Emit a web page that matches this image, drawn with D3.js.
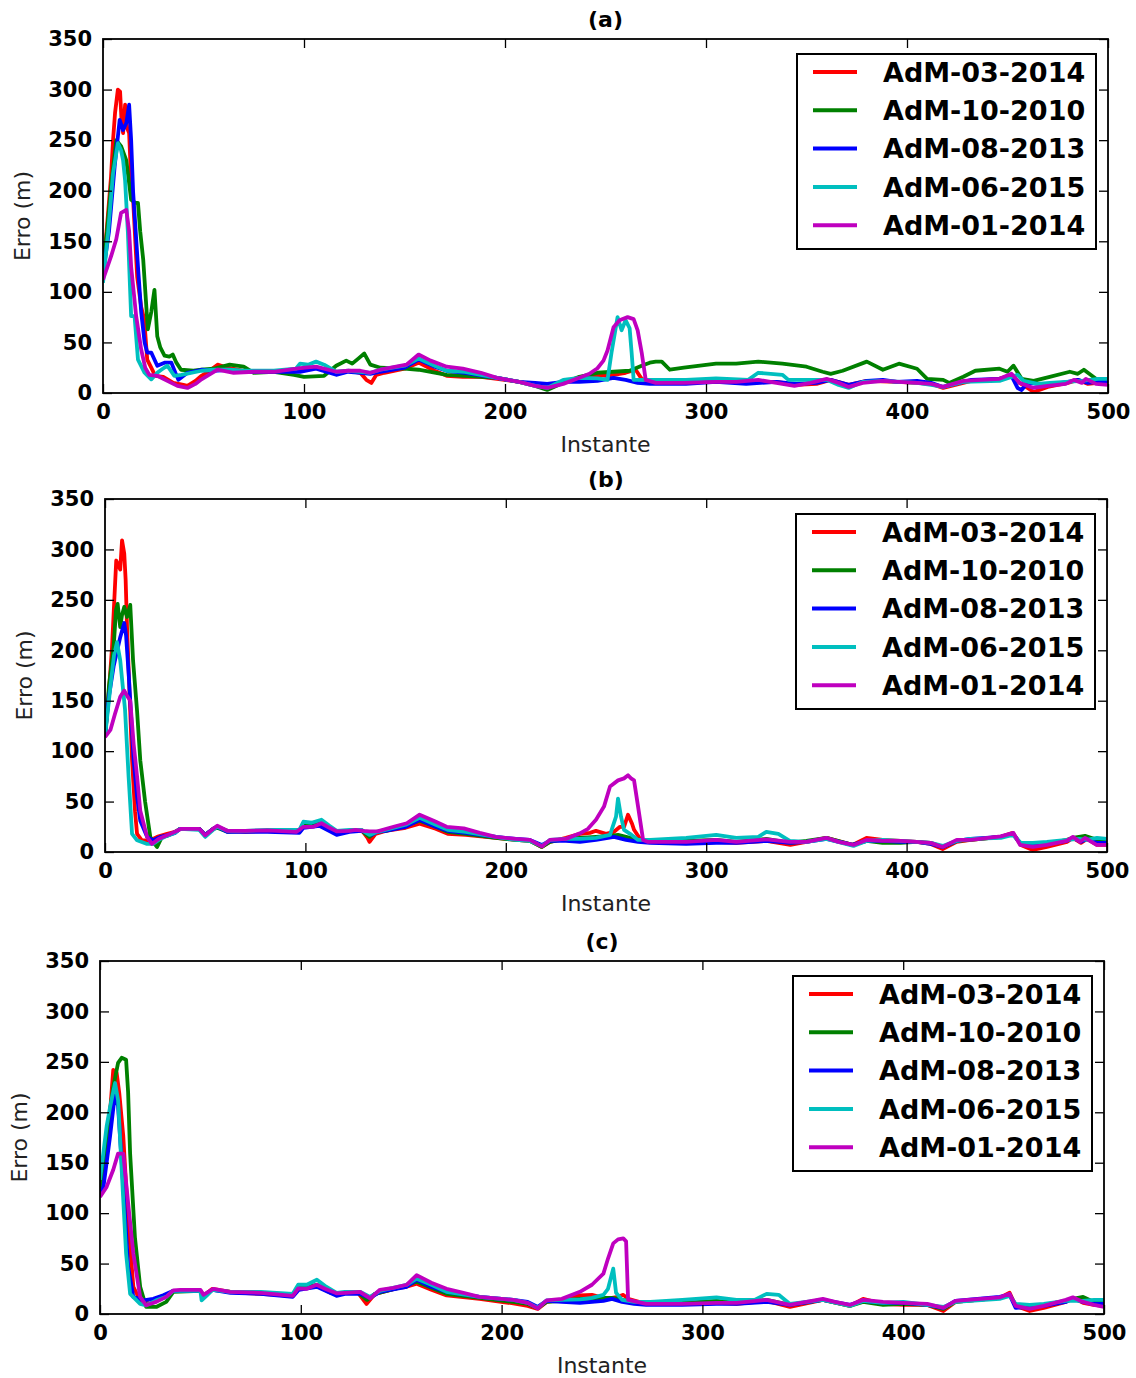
<!DOCTYPE html>
<html>
<head>
<meta charset="utf-8">
<script src="https://cdn.jsdelivr.net/npm/d3@7"></script>
<style>
  html,body{margin:0;padding:0;background:#fff;}
  svg{display:block;font-family:'DejaVu Sans',sans-serif;}
</style>
</head>
<body>
<svg id="chart" width="1136" height="1378" viewBox="0 0 1136 1378"></svg>
<script>
// series names / colours (matplotlib classic r,g,b,c,m)
const seriesNames = ['AdM-03-2014','AdM-10-2010','AdM-08-2013','AdM-06-2015','AdM-01-2014'];
const seriesColors = ['#ff0000','#008000','#0000ff','#00bfbf','#bf00bf'];
const xTicks = [0,100,200,300,400,500];
const yTicks = [0,50,100,150,200,250,300,350];
const panelTitles = ['(a)','(b)','(c)'];

// ---- panel (a) : [instante, erro]
const aRed = [[0,120],[2,165],[4,214],[5,250],[6,277],[7.4,300],[8.5,298],[9.2,270],[10,257],[11,285],[12,262],[13,257],[14,210],[15,191],[17,115],[19,85],[20.5,73],[22,33],[24,25],[26,17],[30,16],[35,10],[40,8],[42,7],[46,12],[49,17],[53,22],[57,28],[62,25],[70,22],[80,21],[90,21],[98,22],[106,25],[116,20],[122,22],[128,20],[131,13],[133.5,10],[136,18],[140,20],[150,24],[157,30],[165,22],[171,17],[179,16],[188,16],[196,14],[207,11],[215,8],[221,5],[229,11],[237,14],[246,17],[254,18],[260,20],[265,23],[268,14],[272,11],[290,10],[305,12],[320,11],[335,11],[345,8],[355,9],[362,13],[371,8],[380,12],[395,11],[405,10],[412,9],[418,5],[424,8],[432,12],[446,14],[452,18],[456,10],[460,5],[463,1],[470,6],[480,10],[485,13],[490,9],[495,10],[500,9]];
const aGreen = [[0,125],[2,160],[4,204],[6.6,250],[9,244],[11.6,230],[14,191],[16,188],[17.4,188],[18.5,160],[20,132],[22.3,63],[24,80],[25.6,102],[27,56],[28.5,45],[30.6,37],[33,36],[34.7,38],[36.5,30],[38.8,23],[45,22],[49,23],[55,24],[63,28],[70,26],[75,20],[85,21],[95,18],[100,16],[110,17],[116,27],[121,32],[124,29],[127,34],[130,39],[133,28],[138,25],[150,24],[157,23],[171,18],[180,17],[196,15],[207,11],[215,7],[221,3],[229,10],[237,16],[246,20],[254,21],[262,22],[268,27],[272,30],[275,31],[278,31],[282,23],[289,25],[305,29],[315,29],[326,31],[338,29],[350,26],[358,21],[362,19],[368,22],[380,31],[388,23],[396,29],[405,24],[410,14],[418,13],[421,10],[428,16],[434,22],[446,24],[450,21],[453,27],[457,14],[463,12],[471,16],[481,21],[485,19],[488,23],[494,14],[500,14]];
const aBlue = [[0,118],[3,160],[5.8,224],[8.3,270],[10,260],[11.6,267],[13,285],[14,250],[15,198],[17.4,125],[19,80],[20.7,50],[22,40],[24,40],[27,27],[30.6,30],[34,30],[36,20],[37.5,13],[42,20],[49,23],[55,22],[63,23],[70,21],[85,21],[98,21],[106,24],[116,18],[122,21],[128,20],[133,19],[138,21],[150,25],[157,33],[165,26],[171,22],[180,20],[196,15],[207,11],[215,10],[221,9],[229,11],[237,11],[246,12],[254,15],[260,13],[266,10],[272,9],[290,9],[305,11],[320,9],[335,11],[345,9],[355,10],[362,13],[371,8],[380,12],[388,13],[395,11],[405,12],[412,10],[418,6],[424,9],[432,13],[446,14],[452,17],[455,5],[457,3],[460,10],[470,8],[480,11],[485,13],[490,10],[495,11],[500,11]];
const aCyan = [[0,109],[2.5,158],[5,217],[7.4,247],[9,240],[10,230],[11,210],[12.4,158],[14,76],[15.7,76],[17.4,33],[20.7,20],[24,13.5],[27,20],[29,23],[32,27],[35.5,17],[39,18],[49,22],[55,23],[63,23],[70,22],[85,22],[96,24],[98,29],[102,28],[106,31],[110,28],[116,21],[122,22],[128,21],[133,20],[138,23],[150,27],[157,34],[165,27],[171,22],[180,21],[196,15],[207,11],[215,7],[221,5],[229,13],[237,15],[246,14.5],[251,13],[253,40],[256,75],[258,62],[260,72],[262,64],[263,40],[264,13],[272,13],[290,13],[305,14.5],[321,13],[326,20],[338,18],[341,13],[360,13],[366,8],[371,5],[378,11],[388,12],[405,10],[412,8],[418,6],[428,11],[446,12],[455,18],[458,12],[465,9],[471,10],[487,12],[495,14],[500,14]];
const aMagenta = [[0,112],[4,135],[6.6,152],[9,178],[11.6,181],[13,160],[14,125],[16.5,76],[19,43],[21,25],[23,18],[27,17],[32,12],[37,7],[42,5],[46,9],[49,13.5],[57,23],[65,20],[75,21],[85,21],[98,24.5],[106,26],[116,21],[122,22],[128,22],[133,20],[138,23],[151,28],[157,38],[163,32],[171,26],[179,24],[188,20],[196,15],[207,11],[215,7],[221,5],[229,9],[237,15],[242,19],[246,24.5],[249,32],[251,42],[254,65],[257,72],[261,75],[264,73],[266,62],[268,40],[270,13],[275,10],[289,10],[305,11],[315,11],[326,13],[335,10],[344,7],[352,10],[360,14],[366,10],[371,6],[378,10],[388,12],[396,11],[405,10],[412,9],[418,6],[428,12],[446,14],[452,19],[456,10],[463,5],[470,7],[479,9],[483,13],[487,10],[489,14],[494,9],[500,8]];

// ---- panel (b)
const bRed = [[0,114],[2,160],[3.5,203],[5.6,289],[6.5,285],[7.6,280],[8.5,309],[9.6,296],[10.3,270],[11,223],[12,170],[13.5,91],[15,40],[16,18],[18.4,11.6],[22.6,11.6],[26,15],[31,18],[35,20],[37.5,23],[47,23],[50,16.5],[54,23],[56,25],[61,21],[70,20],[81,21],[90,20],[97,20],[99,25],[107,28],[115.6,20],[122,21],[128,22],[131,14],[132,10],[135,18],[140,21],[150,24],[157,28],[165,23],[171,18],[180,17],[195,14],[205,12],[212,11],[218,5],[222,10],[230,14],[237,18],[242,19],[245,21],[250,18],[254,20],[257,25],[259,25],[261,37],[263,28],[264,22],[267,13],[270,10],[290,10],[305,10],[315,9],[330,11],[342,7],[350,10],[360,14],[373,7],[380,14],[388,12],[397,11],[405,10],[412,8],[418,3],[425,10],[432,12],[447,15],[453,19],[457,7],[463,2],[470,5],[480,10],[483,14],[487,9],[490,13],[495,7],[500,7]];
const bGreen = [[0,114],[2,165],[4.3,203],[5.5,240],[6.3,246],[7.6,223],[8.5,235],[9.6,243],[11,233],[12.6,245],[14,190],[16,140],[17.6,91],[20,50],[22.6,15],[24,10],[26,5],[28.4,15],[31,16],[35,20],[37.5,23],[47,23],[50,17],[54,23],[56,24],[61,20],[70,21],[81,21],[97,20],[99,26],[107,29],[115.6,19],[122,21],[128,21],[132,15],[135,20],[140,21],[150,26],[157,31],[165,25],[171,20],[180,18],[195,14],[205,12],[212,11],[218,5],[222,10],[230,13],[237,14],[245,15],[252,16],[256,17],[260,15],[264,13],[270,11],[290,11],[305,12],[315,10],[330,13],[342,9],[350,11],[360,14],[373,7],[380,11],[388,9],[397,9],[405,10],[412,9],[418,5],[425,11],[432,12],[447,15],[453,18],[457,8],[463,6],[470,8],[480,12],[483,14],[489,16],[495,12],[500,12]];
const bBlue = [[0,116],[2,155],[4.3,184],[7.6,213],[9.6,227],[10.5,215],[11.8,177],[14.3,91],[16,55],[17.6,31],[21,15],[24,11.6],[27.6,15],[31,16.5],[35,19],[37.5,23],[47,23],[50,17],[54,23],[56,25],[61,20],[70,20],[81,20],[97,19],[99,24],[107,26],[115.6,17],[122,20],[128,21],[133,17],[136,20],[140,21],[150,25],[157,32],[165,25],[171,21],[180,19],[195,15],[205,13],[212,12],[218,7],[222,11],[230,11],[237,10],[245,12],[254,15],[260,12],[266,10],[272,9],[290,8],[305,9],[315,9],[330,11],[342,9],[350,10],[360,13],[373,7],[380,11],[388,11],[397,10],[405,10],[412,8],[418,5],[425,11],[432,13],[447,15],[453,18],[457,8],[463,6],[470,8],[480,11],[483,14],[487,10],[490,13],[495,9],[500,9]];
const bCyan = [[0,114],[2.7,164],[4.5,195],[6,208],[7.6,190],[10,141],[11.8,74],[13.5,18],[16,11.6],[21,8],[24,8],[27.6,13],[31,16],[35,19],[37.5,23],[47,22],[50,15],[54,22],[56,25],[61,21],[70,21],[81,22],[97,22],[99,30],[103,29],[108,32],[112,26],[115.6,21],[122,22],[128,22],[132,17],[136,20],[140,22],[150,27],[157,34],[165,27],[171,22],[180,20],[195,15],[205,12],[212,11],[218,6],[222,12],[230,13],[237,13],[245,14],[252,17],[255,35],[256,53],[257.5,35],[259,22],[262,18],[266,12],[272,12],[290,14],[305,17],[315,14],[326,15],[330,20],[336,18],[341.7,11],[350,10],[360,13],[373.5,6],[380,11],[388,12],[397,11],[405,10],[412,9],[418,6],[425,11],[432,13],[447,14],[453,17],[457,9],[463,9],[470,10],[480,12],[486,13],[490,12],[495,14],[500,13]];
const bMagenta = [[0,114],[2.7,121],[5,137],[7.6,154],[9.6,160],[11,155],[12.6,150],[14.3,107],[16,75],[17.6,41],[21,15],[23.4,8],[26.7,13],[31,16.5],[36,21],[38,23],[47,23],[50,16.5],[54,23],[56,26],[61,21],[70,21],[81,21.5],[95.6,20],[99,25],[104,25],[108,28.5],[112,24],[115.6,20.5],[122,21],[125,22],[129,21],[132,20.5],[136,20.5],[144,25],[150.6,28.5],[157,37],[164,31],[170.5,25],[179,23.5],[187,19],[195,15],[205,13],[212,12],[218,5.5],[222,12],[230,13],[237,18.5],[241,23],[245,32],[249,45],[252,65],[256,71],[259,73],[261,76],[262.5,73],[264,71],[266,45],[268.5,12],[271,10],[290,10],[305,12],[315,10],[330,12.5],[341.7,10],[350,10],[360,14],[366,10],[373.5,7],[380,12],[388,11],[397,11],[405,10],[412,9],[418,5],[425,12],[432,12],[447,15.5],[453.3,19],[456.6,7],[463,5],[470,7],[479.8,11],[483,15],[486.6,10],[489,14],[494.8,7],[500,7]];

// ---- panel (c)
const cRed = [[0,120],[3.3,159],[5,200],[6.6,242],[8.3,239],[9.6,219],[11.6,176],[14,93],[16.6,27],[20,13.5],[25,10],[30,17],[33,18],[36.5,23],[50,23],[51.5,18],[56,25],[65,22],[70,21],[80,20],[96,18],[99,25],[108,28],[115,21],[122,21],[128.5,21],[132.7,10],[137,20],[149,26],[152.7,27],[157.7,30],[165,24],[172.6,18.5],[189,15],[205.8,10.5],[213,8],[218,5],[222.4,12],[230,14],[239,18.5],[245,19],[250.7,16],[255,16],[258,17],[260.6,19],[263,15],[272,10],[290,10],[307,11],[317,10],[332,13],[343.6,7],[360,14],[373.5,8],[380,15],[390,10],[400,9],[412,9],[420,3],[426,12],[448,16],[453,21],[456,8],[463,3],[470,6],[481,12],[484.5,16],[489.6,11],[495,9],[500,8]];
const cGreen = [[0,125],[3.3,176],[6.6,225],[9,249],[10.8,254],[13,252],[14,220],[15,159],[17.4,76],[20,27],[23,7],[28,7],[33,12],[36.5,22],[50,23],[51.5,18],[56,24],[65,22],[80,21],[96,18],[99,26],[108,29],[115,21],[122,21],[128.5,21],[133,14],[137,20],[149,26],[157.7,32],[165,26],[172.6,20],[189,16],[205.8,12],[213,10],[218,6],[222.4,12],[230,13],[239,15],[245,15],[250.7,16],[255,16],[260,14],[265,12],[272,10],[290,11],[307,13],[317,11],[332,14],[343.6,9],[360,14],[373.5,8],[380,12],[390,9],[400,10],[412,9],[420,5],[426,12],[448,16],[453,19],[456,9],[463,7],[470,9],[481,13],[484.5,15],[489.6,17],[495,12],[500,11]];
const cBlue = [[0,118],[1.7,126],[5,176],[7.5,219],[9,206],[11.6,126],[14,47],[16.6,17],[21.6,13.5],[26.5,15],[31.5,18.5],[36.5,23],[50,23],[51.5,18],[56,24],[65,21],[80,20],[96,17],[99,24],[108,27],[117.8,18],[122,20],[129.5,20],[134.5,16],[139.4,22],[152.7,27],[157.7,34],[165,27],[172.6,22],[189,17],[205.8,14],[213,12],[218,7],[222.4,13],[230,12],[239,11],[245,12],[250.7,13],[255,15],[260,12],[266,10],[272,9],[290,9],[307,10],[317,10],[332,12],[343.6,9],[360,14],[373.5,9],[380,13],[390,11],[400,11],[412,9],[420,6],[426,13],[448,17],[453,19],[456,6],[463,7],[470,8],[481,12],[484.5,15],[489.6,12],[495,10],[500,10]];
const cCyan = [[0,133],[3.3,186],[5,205],[7.5,229],[9,212],[10.8,143],[13,60],[15,20],[20,10],[23,8.6],[28,13.5],[33,17],[36.5,23],[50,23],[50.6,13.5],[53,18],[56,24],[64.7,22],[80,22],[96,20],[98.7,29],[103,29],[108,34],[112,28],[117.8,21],[122,22],[129.5,22],[134.5,17],[139.4,23],[152.7,29],[157.7,35],[165,29],[172.6,22],[189,17],[205.8,14],[213,11],[218,6],[222.4,13.5],[230,14],[239,14.5],[245,16],[250.7,19],[253,25],[255.6,45],[257,21],[260,14],[266,12],[274,12],[290,14],[307,16.5],[317,14],[326,14],[332,20],[338,19],[343.6,10],[360,14],[373.5,8],[380,13],[390,11],[400,12],[412,9],[420,7],[426,12],[448,15],[453,18],[456,10],[463,9],[470,10],[481,13],[489.6,13],[495,14],[500,14]];
const cMagenta = [[0,116],[3.3,126],[6.6,143],[9,159],[11.6,159],[14,110],[16.6,60],[20,17],[23,8.6],[28,12],[33,17],[36.5,23.5],[40,24],[50,24],[51.5,19],[56.4,25],[64.7,22],[80,21],[96,18],[98.7,25.5],[103,25],[107.9,29],[112,25],[117.8,20.5],[122,21],[129.5,22],[134.5,15.5],[139.4,24],[146,26],[152.7,29],[157.7,38.5],[165,31],[172.6,25],[181,21],[189,17],[205.8,14],[213,11],[218,5.5],[222.4,13.5],[230,15],[239,22],[245,29],[250.7,40],[253,55],[255.6,70],[258,74],[260.6,75],[262,72],[263,14],[272,10],[290,10],[307,11],[317,11],[332,14],[343.6,9],[360,15],[366,12],[373.5,9],[380,14],[390,12],[400,11],[412,10],[420,6],[426,13],[448,16.5],[453,20],[456,8],[463,5],[470,8],[481,14],[484.5,16.5],[489.6,12],[495,9],[500,7]];

const panelData = [
  [aRed,aGreen,aBlue,aCyan,aMagenta],
  [bRed,bGreen,bBlue,bCyan,bMagenta],
  [cRed,cGreen,cBlue,cCyan,cMagenta]
];

(function(){
  const svg = d3.select('#chart');
  svg.append('rect').attr('width',1136).attr('height',1378).attr('fill','#fff');
  const defs = svg.append('defs');

  const boxes = [
    {l:103, t:39,  r:1108, b:393},
    {l:105, t:499, r:1107, b:852},
    {l:100, t:961, r:1104, b:1314}
  ];

  boxes.forEach((bx, pi) => {
    const x = d3.scaleLinear().domain([0,500]).range([bx.l, bx.r]);
    const y = d3.scaleLinear().domain([0,350]).range([bx.b, bx.t]);
    const g = svg.append('g');

    defs.append('clipPath').attr('id','clip'+pi)
      .append('rect').attr('x',bx.l).attr('y',bx.t).attr('width',bx.r-bx.l).attr('height',bx.b-bx.t);

    // lines
    const line = d3.line().x(d=>x(d[0])).y(d=>y(d[1]));
    const gl = g.append('g').attr('clip-path','url(#clip'+pi+')');
    panelData[pi].forEach((s,si) => {
      gl.append('path').datum(s)
        .attr('d', line)
        .attr('fill','none')
        .attr('stroke', seriesColors[si])
        .attr('stroke-width',3.8)
        .attr('stroke-linejoin','round');
    });

    // axes, ticks pointing inward on all four sides
    const styleAxis = sel => {
      sel.select('.domain').remove();
      sel.selectAll('.tick line').attr('stroke','#000').attr('stroke-width',1.3);
      sel.selectAll('.tick text').attr('fill','#000').attr('font-size','21px').attr('font-weight','bold')
        .attr('font-family','DejaVu Sans, sans-serif');
    };
    g.append('g').attr('transform',`translate(0,${bx.b})`)
      .call(d3.axisBottom(x).tickValues(xTicks).tickSize(-9).tickPadding(11).tickFormat(d3.format('d')))
      .call(styleAxis);
    g.append('g').attr('transform',`translate(0,${bx.t})`)
      .call(d3.axisTop(x).tickValues(xTicks).tickSize(-9).tickFormat(''))
      .call(styleAxis);
    g.append('g').attr('transform',`translate(${bx.l},0)`)
      .call(d3.axisLeft(y).tickValues(yTicks).tickSize(-9).tickPadding(11).tickFormat(d3.format('d')))
      .call(styleAxis);
    g.append('g').attr('transform',`translate(${bx.r},0)`)
      .call(d3.axisRight(y).tickValues(yTicks).tickSize(-9).tickFormat(''))
      .call(styleAxis);

    // frame
    g.append('rect').attr('x',bx.l).attr('y',bx.t).attr('width',bx.r-bx.l).attr('height',bx.b-bx.t)
      .attr('fill','none').attr('stroke','#000').attr('stroke-width',1.8);

    // title + axis labels
    const cx = (bx.l+bx.r)/2;
    g.append('text').attr('x',cx).attr('y',bx.t-12).attr('text-anchor','middle')
      .attr('font-size','22px').attr('font-weight','bold').text(panelTitles[pi]);
    g.append('text').attr('x',cx).attr('y',bx.b+59).attr('text-anchor','middle')
      .attr('font-size','22px').attr('fill','#222').text('Instante');
    g.append('text').attr('transform',`translate(${bx.l-73},${(bx.t+bx.b)/2}) rotate(-90)`)
      .attr('text-anchor','middle').attr('font-size','22px').attr('fill','#222').text('Erro (m)');

    // legend
    const lw = 299, lh = 195;
    const lg = g.append('g').attr('transform',`translate(${bx.r-12-lw},${bx.t+15})`);
    lg.append('rect').attr('width',lw).attr('height',lh).attr('fill','#fff')
      .attr('stroke','#000').attr('stroke-width',2);
    seriesNames.forEach((name,i) => {
      const ry = 18 + i*38.3;
      lg.append('line').attr('x1',16).attr('x2',60).attr('y1',ry).attr('y2',ry)
        .attr('stroke',seriesColors[i]).attr('stroke-width',4);
      lg.append('text').attr('x',86).attr('y',ry).attr('dy','0.36em')
        .attr('font-size','27px').attr('font-weight','bold').text(name);
    });
  });
})();
</script>
</body>
</html>
